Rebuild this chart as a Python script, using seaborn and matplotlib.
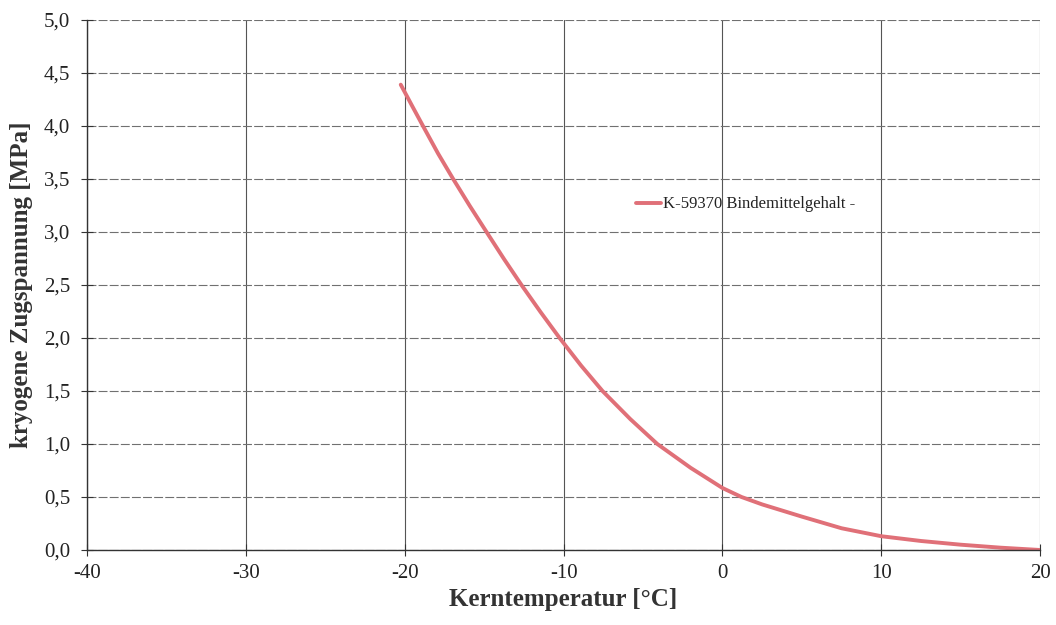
import matplotlib
matplotlib.use("Agg")
import matplotlib.pyplot as plt
import matplotlib.ticker as mticker
import seaborn as sns
import pandas as pd

temperature = [-20.25, -19.5, -18.85, -17.9, -16.95, -15.9, -14.85, -13.75, -12.65, -11.45,
               -10.25, -8.9, -7.55, -5.8, -4.1, -2.0, 0.0, 1.2, 2.5, 5.0, 7.5,
               10.0, 12.5, 15.0, 17.5, 20.0]
stress = [4.39, 4.18, 4.00, 3.74, 3.50, 3.245, 3.00, 2.745, 2.50, 2.245,
          2.00, 1.74, 1.50, 1.235, 1.00, 0.775, 0.585, 0.50, 0.43, 0.315, 0.205,
          0.13, 0.085, 0.05, 0.022, 0.00]
series_label = "K-59370 Bindemittelgehalt -"

df = pd.DataFrame({"T": temperature, "s": stress, "serie": series_label})

sns.set_theme(style="white")
plt.rcParams["font.family"] = ["Liberation Serif", "DejaVu Serif"]

fig = plt.figure(figsize=(10.56, 6.25), dpi=100)
ax = fig.add_axes([0.0824, 0.12, 0.9026, 0.848])

sns.lineplot(data=df, x="T", y="s", hue="serie", palette=["#e07078"],
             linewidth=2.8, ax=ax, sort=False)

ax.set_xlim(-40, 20)
ax.set_ylim(0, 5)
ax.xaxis.set_major_locator(mticker.MultipleLocator(10))
ax.yaxis.set_major_locator(mticker.MultipleLocator(0.5))
ax.yaxis.set_major_formatter(mticker.FuncFormatter(lambda v, p: f"{v:.1f}".replace(".", ",")))
ax.xaxis.set_major_formatter(mticker.FuncFormatter(lambda v, p: f"{v:.0f}"))

ax.grid(True, axis="x", color="#555555", linewidth=0.8)
ax.grid(True, axis="y", color="#707070", linewidth=0.8, linestyle=(0, (8, 2)))
ax.set_axisbelow(True)

for side in ["top", "right"]:
    ax.spines[side].set_visible(False)
for side in ["left", "bottom"]:
    ax.spines[side].set_color("#333333")
    ax.spines[side].set_linewidth(1.0)

ax.tick_params(axis="both", which="major", direction="inout", length=8, width=0.8,
               color="#333333", labelsize=15, labelcolor="#222222",
               left=True, bottom=True)
ax.tick_params(axis="x", pad=6)
ax.tick_params(axis="y", pad=8)

ax.set_xlabel("Kerntemperatur [°C]", fontsize=18, fontweight="bold", color="#333333", labelpad=4)
ax.set_ylabel("kryogene Zugspannung [MPa]", fontsize=18, fontweight="bold", color="#333333", labelpad=8)

leg = ax.legend(loc="center left", bbox_to_anchor=(0.56, 0.652), frameon=False,
                fontsize=12, handlelength=1.5, handletextpad=0.15, labelcolor="#222222")

fig.savefig("out.png", dpi=100)
